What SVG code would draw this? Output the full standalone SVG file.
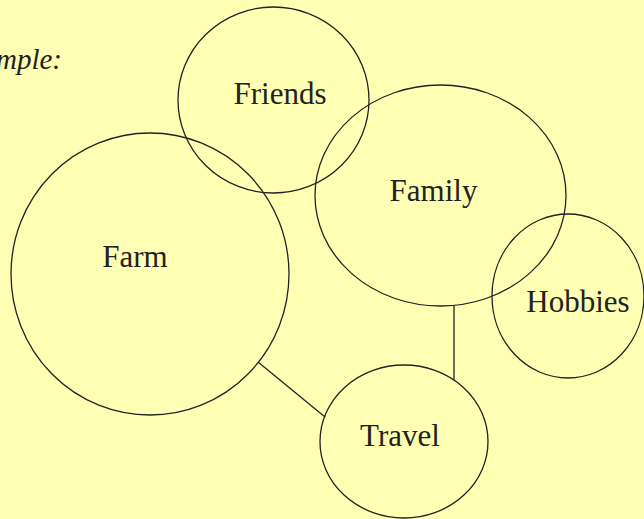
<svg xmlns="http://www.w3.org/2000/svg" width="644" height="519" viewBox="0 0 644 519">
<style>
.n{fill:none;stroke:#222;stroke-width:1.3}
.t{font-family:"Liberation Serif","Times New Roman",serif;font-size:31px;fill:#222;text-anchor:middle}
.c{stroke:#222;stroke-width:1.3;fill:none}
</style>
<rect width="644" height="519" fill="#ffffb4"/>
<text x="62" y="69" style="font-family:'Liberation Serif',serif;font-style:italic;font-size:29px;fill:#222;text-anchor:end">Example:</text>
<g id="connectors">
<line class="c" x1="258" y1="362" x2="325" y2="417"/>
<line class="c" x1="454" y1="305" x2="454" y2="380"/>
</g>
<g id="friends"><ellipse class="n" cx="273.5" cy="100" rx="95.5" ry="93"/><text class="t" x="280" y="104">Friends</text></g>
<g id="farm"><ellipse class="n" cx="150" cy="274" rx="139" ry="141"/><text class="t" x="135" y="267">Farm</text></g>
<g id="family"><ellipse class="n" cx="440.5" cy="195.5" rx="125.5" ry="110.5"/><text class="t" x="433.5" y="201">Family</text></g>
<g id="hobbies"><ellipse class="n" cx="568" cy="296" rx="76" ry="82"/><text class="t" x="578" y="312">Hobbies</text></g>
<g id="travel"><ellipse class="n" cx="404" cy="441.5" rx="84" ry="76.5"/><text class="t" x="400" y="446">Travel</text></g>
</svg>
